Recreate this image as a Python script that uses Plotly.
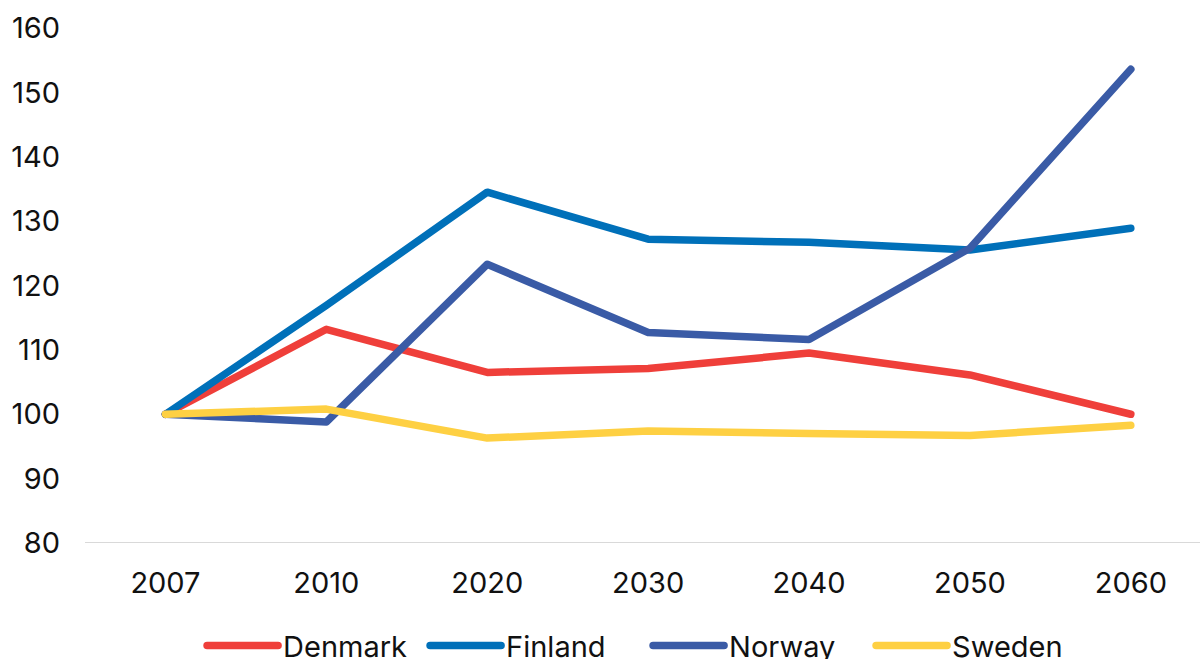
import plotly.graph_objects as go

years = ["2007", "2010", "2020", "2030", "2040", "2050", "2060"]
denmark = [100, 113.2, 106.5, 107.1, 109.5, 106.1, 100.0]
finland = [100, 116.9, 134.5, 127.2, 126.7, 125.5, 128.9]
norway = [100, 98.8, 123.3, 112.7, 111.6, 125.8, 153.6]
sweden = [100, 100.8, 96.3, 97.4, 97.0, 96.7, 98.3]

series = [
    ("Denmark", denmark, "#EF3F3A"),
    ("Finland", finland, "#0070B9"),
    ("Norway", norway, "#3A5BA6"),
    ("Sweden", sweden, "#FED043"),
]

FONT = "Inter"
SIZE = 29

fig = go.Figure()
for name, vals, color in series:
    fig.add_trace(go.Scatter(
        x=years, y=vals, name=name, mode="lines",
        line=dict(color=color, width=7.5),
    ))

fig.update_layout(
    width=1200, height=659,
    margin=dict(l=85, r=0, t=28, b=116, autoexpand=False),
    paper_bgcolor="white", plot_bgcolor="white",
    font=dict(family=FONT, size=SIZE, color="#111111"),
    showlegend=True,
    legend=dict(
        orientation="h", x=0.505, xanchor="center", y=-0.15, yanchor="top",
        font=dict(family=FONT, size=SIZE, color="#111111"),
        itemwidth=71, tracegroupgap=0,
        entrywidth=137, entrywidthmode="pixels",
    ),
    xaxis=dict(
        type="category", range=[-0.5, 6.43],
        showgrid=False, zeroline=False, showline=False,
        ticks="", ticklabelstandoff=20,
    ),
    yaxis=dict(
        range=[80, 160], dtick=10, tick0=80,
        showgrid=False, zeroline=False, showline=False,
        ticks="", ticklabelstandoff=24,
    ),
)

# baseline across the bottom of the plot
fig.add_shape(type="line", xref="paper", yref="y", x0=0, x1=1, y0=80, y1=80,
              line=dict(color="#D9D9D9", width=2), layer="below")

post = """
var gd = document.getElementsByClassName('plotly-graph-div')[0];
function roundCaps(){
  gd.querySelectorAll('.js-line').forEach(function(p){
    p.style.strokeLinecap='round'; p.style.strokeLinejoin='round';
  });
}
roundCaps();
gd.on('plotly_afterplot', roundCaps);
"""
fig.write_html("out.html", post_script=post)
